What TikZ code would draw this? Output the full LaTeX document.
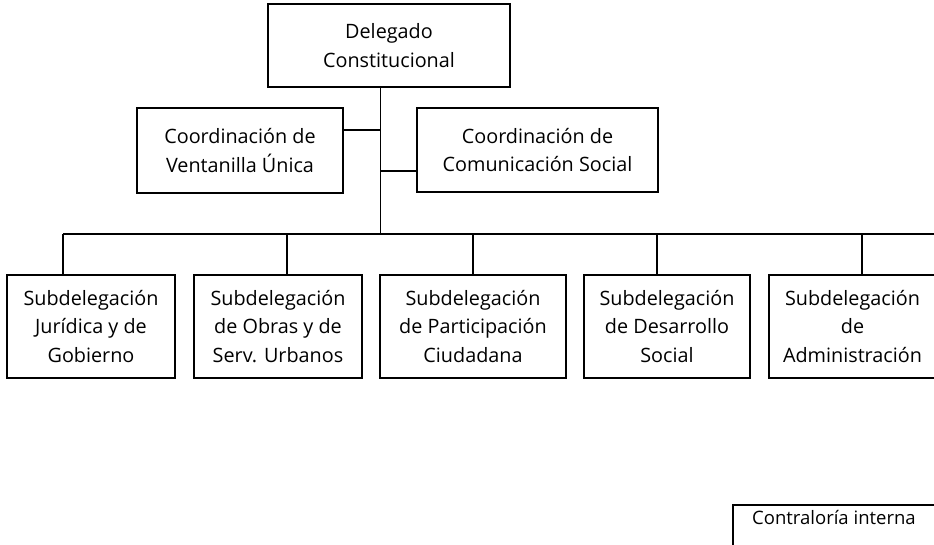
\documentclass[tikz,border=0pt]{standalone}
\usepackage{fontspec}
\setmainfont{Open Sans}
\begin{document}
\begin{tikzpicture}[x=1pt,y=-1pt,
  box/.style={draw=black,line width=1.8pt,inner sep=0pt,align=center,
    font=\fontsize{19.8}{28.5}\selectfont},
  conn/.style={draw=black,line width=1.8pt}]
\useasboundingbox (0,0) rectangle (934,545);
\fill[white] (0,0) rectangle (934,545);
\clip (0,0) rectangle (934,545);
% top
\node[box,minimum width=242pt,minimum height=83pt] (top) at (389,45.5) {Delegado\\Constitucional};
\node[box,minimum width=206pt,minimum height=85pt] (vent) at (240,150.5) {Coordinación de\\Ventanilla Única};
\node[box,minimum width=241pt,minimum height=84pt] (comun) at (537.5,150) {Coordinación de\\Comunicación Social};
% bottom row
\node[box,minimum width=168pt,minimum height=103pt] (s1) at (91,326.5) {Subdelegación\\Jurídica y de\\Gobierno};
\node[box,minimum width=168pt,minimum height=103pt] (s2) at (278,326.5) {Subdelegación\\de Obras y de\\Serv. Urbanos};
\node[box,minimum width=186pt,minimum height=103pt] (s3) at (473,326.5) {Subdelegación\\de Participación\\Ciudadana};
\node[box,minimum width=166pt,minimum height=103pt] (s4) at (667,326.5) {Subdelegación\\de Desarrollo\\Social};
\node[box,minimum width=167pt,minimum height=103pt] (s5) at (852.5,326.5) {Subdelegación\\de\\Administración};
% contraloria (partly outside)
\node[box,minimum width=240pt,minimum height=80pt,anchor=north west] (contra) at (732,504) {};
\node[anchor=west,inner sep=0pt,font=\fontsize{18.5}{28.5}\selectfont] (contratext) at (752,518) {Contraloría interna};
% connectors
\coordinate (trunk) at (380.5,234);
\coordinate (j1) at (380.5,130);
\coordinate (j2) at (380.5,171);
\coordinate (busL) at (63,234);
\coordinate (busR) at (945,234);
\coordinate (d2) at (287,234);
\coordinate (d3) at (473,234);
\coordinate (d4) at (657,234);
\coordinate (d5) at (862,234);
\draw[conn] (top.south -| trunk) -- (trunk);
\draw[conn] (vent.east |- j1) -- (j1);
\draw[conn] (j2) -- (comun.west |- j2);
\draw[conn] (busL) -- (busR);
\draw[conn] (busL) -- (s1.north -| busL);
\draw[conn] (d2) -- (s2.north -| d2);
\draw[conn] (d3) -- (s3.north -| d3);
\draw[conn] (d4) -- (s4.north -| d4);
\draw[conn] (d5) -- (s5.north -| d5);
\end{tikzpicture}
\end{document}
